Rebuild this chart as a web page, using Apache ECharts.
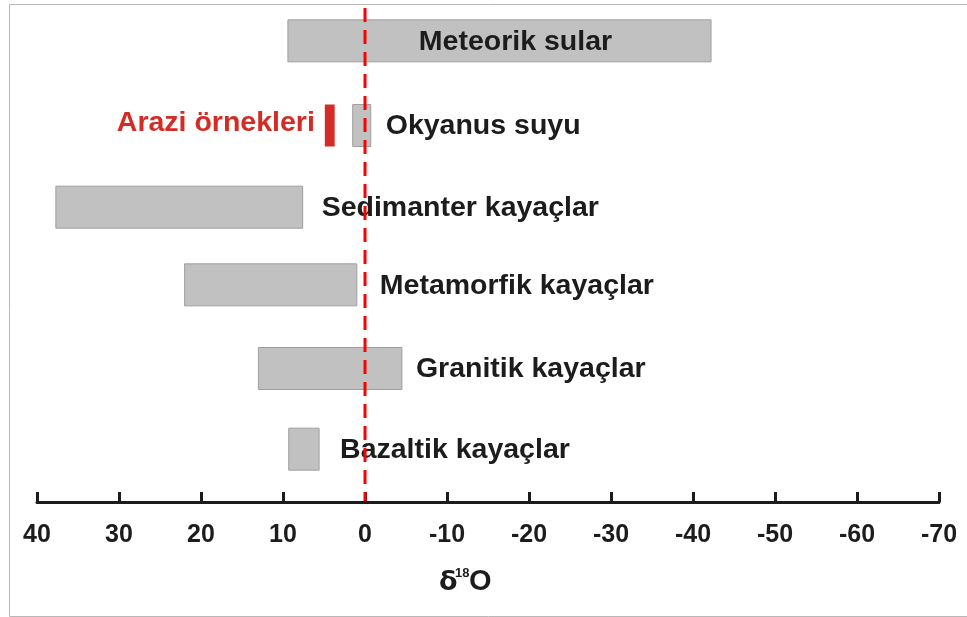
<!DOCTYPE html>
<html><head><meta charset="utf-8">
<script src="https://cdn.jsdelivr.net/npm/echarts@6/dist/echarts.min.js"></script>
<style>html,body{margin:0;background:#fff}#c{width:967px;height:617px}</style>
</head><body><div id="c"></div>
<script>
// Data (bottom to top)
const categories = ['Bazaltik kayaçlar', 'Granitik kayaçlar', 'Metamorfik kayaçlar', 'Sedimanter kayaçlar', 'Okyanus suyu', 'Meteorik sular'];
const rangeHigh = [9.3, 13.0, 22.0, 37.7, 1.5, 9.4];
const rangeLow = [5.6, -4.5, 1.0, 7.6, -0.7, -42.2];
const fieldName = 'Arazi örnekleri';
const fieldCategory = 'Okyanus suyu';
const fieldHigh = [4.9];
const fieldLow = [3.7];
const axisMin = -70, axisMax = 40, axisStep = 10;
const axisTitle = ['δ', '18', 'O'];

const labelMode = ['right', 'right', 'right', 'right', 'right', 'inside'];
const labelGap = [21, 14, 23, 19, 15, 16];
const rowShift = [0, 1, -1, 3, 3, 0];
const FONT = '"Liberation Sans", Arial, sans-serif';
const TXT = '#1c1c1c';

const chart = echarts.init(document.getElementById('c'), null, {renderer: 'canvas'});

const rangeData = categories.map((c, i) => [i, rangeHigh[i], rangeLow[i]]);
const fieldIdx = categories.indexOf(fieldCategory);
const fieldData = fieldHigh.map((h, i) => [fieldIdx, h, fieldLow[i]]);

function rectFrom(api, shift) {
  const c = api.value(0);
  const p1 = api.coord([api.value(1), c]);
  const p2 = api.coord([api.value(2), c]);
  const h = 42;
  const x = Math.min(p1[0], p2[0]);
  const w = Math.abs(p2[0] - p1[0]);
  const cy = p1[1] + (shift || 0);
  return {x: x, y: cy - h / 2, width: w, height: h, cy: cy};
}

const option = {
  backgroundColor: '#ffffff',
  animation: false,
  grid: {left: 37, right: 28, top: 0, bottom: 127, outerBoundsMode: 'none'},
  xAxis: {
    type: 'value', min: axisMin, max: axisMax, interval: axisStep, inverse: true, offset: 12,
    axisLine: {show: true, lineStyle: {color: TXT, width: 3}},
    axisTick: {show: true, inside: true, length: 10, lineStyle: {color: TXT, width: 3}},
    axisLabel: {margin: 21, fontSize: 25, fontWeight: 'bold', color: TXT, fontFamily: FONT},
    splitLine: {show: false}
  },
  yAxis: {
    type: 'category', data: categories, show: false,
    axisLine: {show: false}, axisTick: {show: false}, axisLabel: {show: false}
  },
  series: [
    {
      type: 'custom', name: 'ranges', data: rangeData, encode: {x: [1, 2], y: 0}, z: 2,
      renderItem: function (params, api) {
        const i = params.dataIndex;
        const r = rectFrom(api, rowShift[i]);
        const name = categories[i];
        let text;
        if (labelMode[i] === 'inside') {
          text = {type: 'text', z2: 5, style: {text: name, x: r.x + r.width / 2 + labelGap[i], y: r.cy + 1, align: 'center', verticalAlign: 'middle',
            fontSize: 28.5, fontWeight: 'bold', fontFamily: FONT, fill: TXT}};
        } else {
          text = {type: 'text', z2: 5, style: {text: name, x: r.x + r.width + labelGap[i], y: r.cy + 1, align: 'left', verticalAlign: 'middle',
            fontSize: 28.5, fontWeight: 'bold', fontFamily: FONT, fill: TXT}};
        }
        return {type: 'group', children: [
          {type: 'rect', shape: {x: r.x, y: r.y, width: r.width, height: r.height},
            style: {fill: '#c1c1c1', stroke: '#9f9f9f', lineWidth: 1}},
          text
        ]};
      }
    },
    {
      type: 'custom', name: fieldName, data: fieldData, encode: {x: [1, 2], y: 0}, z: 3,
      renderItem: function (params, api) {
        const r = rectFrom(api, rowShift[fieldIdx]);
        return {type: 'group', children: [
          {type: 'rect', shape: {x: r.x, y: r.y, width: r.width, height: r.height},
            style: {fill: '#d42b24', stroke: null}},
          {type: 'text', style: {text: fieldName, x: r.x - 10, y: r.cy - 2, align: 'right', verticalAlign: 'middle',
            fontSize: 28.5, fontWeight: 'bold', fontFamily: FONT, fill: '#d42b24'}}
        ]};
      }
    },
    {
      type: 'custom', name: 'zero', data: [[0, 0]], encode: {x: 0, y: 1}, z: 4,
      renderItem: function (params, api) {
        const p = api.coord([api.value(0), 0]);
        const cs = params.coordSys;
        return {type: 'line', shape: {x1: p[0], y1: cs.y + 8, x2: p[0], y2: cs.y + cs.height + 11},
          style: {stroke: '#ff0000', lineWidth: 3, lineDash: [14, 8]}};
      }
    }
  ],
  graphic: [
    {type: 'rect', left: 7, top: 2, shape: {width: 959, height: 612}, style: {fill: 'none', stroke: '#b8b8b8', lineWidth: 1}, silent: true},
    {type: 'text', left: 439, top: 569, style: {text: axisTitle[0], fontSize: 27, fontWeight: 'bold', fontFamily: '"DejaVu Sans", sans-serif', fill: TXT}},
    {type: 'text', left: 455, top: 567, style: {text: axisTitle[1], fontSize: 13, fontWeight: 'bold', fontFamily: FONT, fill: TXT}},
    {type: 'text', left: 469, top: 567, style: {text: axisTitle[2], fontSize: 29, fontWeight: 'bold', fontFamily: FONT, fill: TXT}}
  ]
};
chart.setOption(option);
</script>
</body></html>
